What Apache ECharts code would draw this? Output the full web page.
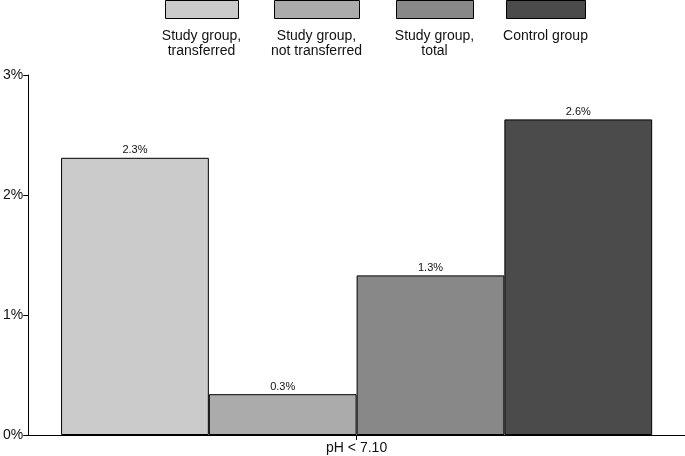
<!DOCTYPE html>
<html>
<head>
<meta charset="utf-8">
<script src="https://cdn.jsdelivr.net/npm/echarts@6/dist/echarts.min.js"></script>
<style>html,body{margin:0;padding:0;background:#fff}#c{width:685px;height:456px}</style>
</head>
<body>
<div id="c"></div>
<script>
var categories = ['pH < 7.10'];
var seriesNames = ['Study group,\ntransferred', 'Study group,\nnot transferred', 'Study group,\ntotal', 'Control group'];
var seriesValues = [[2.31], [0.34], [1.33], [2.63]];
var seriesColors = ['#cbcbcb', '#ababab', '#888888', '#4b4b4b'];
var yTicks = [0, 1, 2, 3];

var FONT = 'Liberation Sans, Arial, Helvetica, sans-serif';
var chart = echarts.init(document.getElementById('c'));

// legend drawn as graphic (box above, text below)
var legendCenters = [201.5, 316.5, 434.5, 545.5];
var legendBoxW = [73, 85, 77, 79];
var graphics = [];
seriesNames.forEach(function (n, i) {
  graphics.push({
    type: 'rect', left: legendCenters[i] - legendBoxW[i] / 2, top: 0,
    shape: { width: legendBoxW[i], height: 18 },
    style: { fill: seriesColors[i], stroke: '#000', lineWidth: 1 }
  });
  graphics.push({
    type: 'text', x: legendCenters[i], y: 29,
    style: { text: n, font: '14px ' + FONT, fill: '#111', align: 'center', verticalAlign: 'top', lineHeight: 15 }
  });
});

var series = seriesNames.map(function (n, i) {
  return {
    name: n, type: 'bar', data: seriesValues[i],
    barGap: '0%', barCategoryGap: '10%',
    itemStyle: { color: seriesColors[i], borderColor: '#000', borderWidth: 1 },
    label: {
      show: true, position: 'top', distance: 2, fontSize: 11, fontFamily: FONT, color: '#111',
      formatter: function (p) { return p.value.toFixed(1) + '%'; }
    }
  };
});

chart.setOption({
  animation: false,
  backgroundColor: '#fff',
  graphic: graphics,
  grid: { left: 24, right: 0, top: 75, bottom: 21, containLabel: false },
  xAxis: {
    type: 'category', data: categories,
    axisLine: { lineStyle: { color: '#000', width: 1 } },
    axisTick: { show: true, alignWithLabel: true, length: 5, lineStyle: { color: '#000' } },
    axisLabel: { fontSize: 14, fontFamily: FONT, color: '#111', margin: 6 }
  },
  yAxis: {
    type: 'value', min: yTicks[0], max: yTicks[yTicks.length - 1], interval: 1,
    axisLine: { show: true, lineStyle: { color: '#000', width: 1 } },
    axisTick: { show: true, length: 5, lineStyle: { color: '#000' } },
    splitLine: { show: false },
    axisLabel: { fontSize: 14, fontFamily: FONT, color: '#111', margin: 5, formatter: '{value}%' }
  },
  series: series
});
</script>
</body>
</html>
